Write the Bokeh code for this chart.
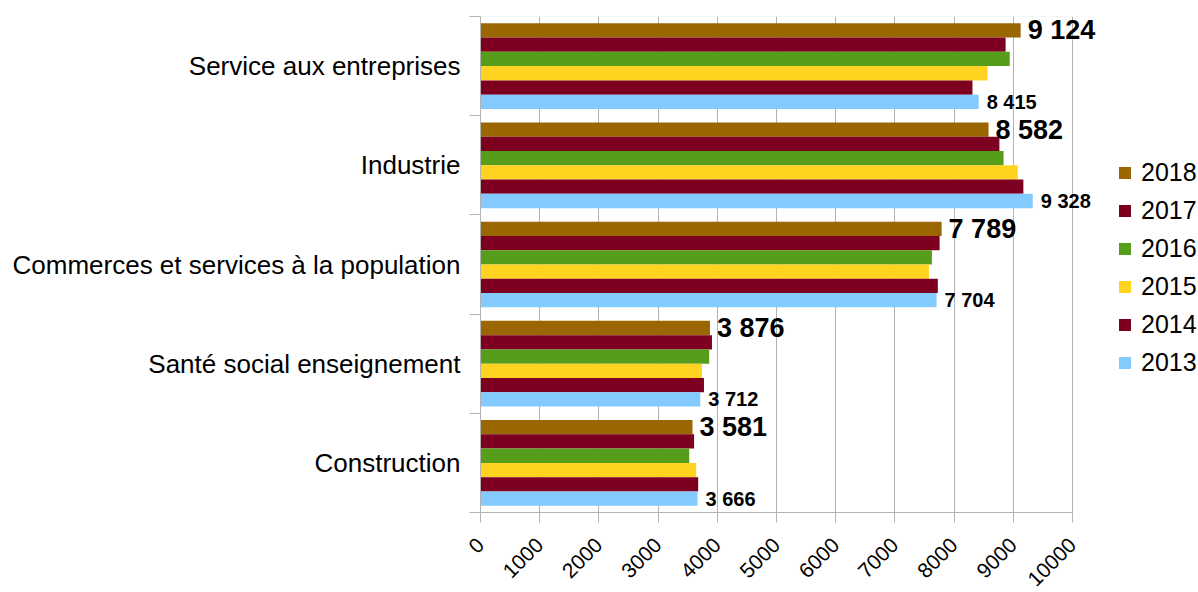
import math
from bokeh.plotting import figure
from bokeh.models import (ColumnDataSource, Range1d, FixedTicker, BoxAnnotation,
                          CustomJSTickFormatter, Legend, LegendItem, LabelSet)
from bokeh.transform import dodge
from bokeh.core.properties import value
from bokeh.embed import file_html
from bokeh.resources import INLINE

# ---- data ----
categories = ["Service aux entreprises", "Industrie",
              "Commerces et services à la population",
              "Santé social enseignement", "Construction"]
years = ["2018", "2017", "2016", "2015", "2014", "2013"]
v2018 = [9124, 8582, 7789, 3876, 3581]
v2017 = [8870, 8765, 7755, 3910, 3608]
v2016 = [8940, 8835, 7625, 3863, 3526]
v2015 = [8565, 9075, 7575, 3740, 3643]
v2014 = [8310, 9170, 7725, 3775, 3677]
v2013 = [8415, 9328, 7704, 3712, 3666]
x_ticks = [0, 1000, 2000, 3000, 4000, 5000, 6000, 7000, 8000, 9000, 10000]

colors = {"2018": "#996600", "2017": "#7E0021", "2016": "#579D1C",
          "2015": "#FFD320", "2014": "#7E0021", "2013": "#83CAFF"}
series = {"2018": v2018, "2017": v2017, "2016": v2016,
          "2015": v2015, "2014": v2014, "2013": v2013}

FONT = "Liberation Sans"
GRID = "#b3b3b3"
n = len(categories)
pos = [n - 0.5 - i for i in range(n)]

def fmt(v):
    return "{:,}".format(v).replace(",", " ")

data = dict(pos=pos)
for y in years:
    data["v" + y] = series[y]
data["l2018"] = [fmt(v) for v in v2018]
data["l2013"] = [fmt(v) for v in v2013]
src = ColumnDataSource(data)

# axis spans 592 px; the frame is widened so value labels past 10000 are not clipped
axis_px = 592
frame_w = 632
x_end = x_ticks[-1] * frame_w / axis_px

p = figure(frame_width=frame_w, frame_height=496, output_backend="svg",
           toolbar_location=None,
           x_range=Range1d(0, x_end), y_range=Range1d(0, n),
           min_border_left=480, min_border_right=86, min_border_top=16,
           min_border_bottom=80)
p.outline_line_color = None
p.background_fill_color = "white"
p.border_fill_color = "white"

# plot-area border (0..10000 x all categories)
p.add_layout(BoxAnnotation(left=x_ticks[0], right=x_ticks[-1], bottom=0, top=n,
                           fill_alpha=0, line_color=GRID, line_width=1,
                           level="underlay"))

bar_h = 0.144
offsets = {"2018": 0.36, "2017": 0.216, "2016": 0.072,
           "2015": -0.072, "2014": -0.216, "2013": -0.36}

renderers = {}
for y in years:
    r = p.hbar(y=dodge("pos", offsets[y], range=p.y_range), left=0, right="v" + y,
               height=bar_h, source=src, fill_color=colors[y], line_color=None)
    renderers[y] = r

p.add_layout(LabelSet(x="v2018", y=dodge("pos", offsets["2018"], range=p.y_range),
                      text="l2018", source=src, x_offset=7, text_baseline="middle",
                      text_align="left", text_font=value(FONT), text_font_style="bold",
                      text_font_size="27px", text_color="black"))
p.add_layout(LabelSet(x="v2013", y=dodge("pos", offsets["2013"], range=p.y_range),
                      text="l2013", source=src, x_offset=8, text_baseline="middle",
                      text_align="left", text_font=value(FONT), text_font_style="bold",
                      text_font_size="20px", text_color="black"))

# axes
xa = p.xaxis[0]
xa.ticker = FixedTicker(ticks=x_ticks)
xa.bounds = (x_ticks[0], x_ticks[-1])
xa.axis_line_color = GRID
xa.major_tick_line_color = GRID
xa.major_tick_out = 10
xa.major_tick_in = 0
xa.minor_tick_line_color = None
xa.major_label_orientation = math.pi / 4
xa.major_label_text_font = FONT
xa.major_label_text_font_size = "21px"
xa.major_label_text_color = "black"
xa.major_label_standoff = 19

ya = p.yaxis[0]
cats_bottom_up = list(reversed(categories))
ya.ticker = FixedTicker(ticks=pos, minor_ticks=list(range(n + 1)))
ya.formatter = CustomJSTickFormatter(args=dict(labels=cats_bottom_up),
                                     code="return labels[Math.floor(tick)];")
ya.axis_line_color = GRID
ya.major_tick_line_color = None
ya.major_tick_out = 0
ya.major_tick_in = 0
ya.minor_tick_line_color = GRID
ya.minor_tick_out = 11
ya.minor_tick_in = 0
ya.major_label_text_font = FONT
ya.major_label_text_font_size = "26px"
ya.major_label_text_color = "black"
ya.major_label_standoff = 9

p.xgrid.grid_line_color = GRID
p.xgrid.ticker = FixedTicker(ticks=x_ticks)
p.ygrid.grid_line_color = None

legend = Legend(items=[LegendItem(label=y, renderers=[renderers[y]]) for y in years],
                location=(5, 135), orientation="vertical",
                glyph_width=15, glyph_height=15, label_standoff=9, label_height=24,
                label_text_font=FONT, label_text_font_size="25px",
                label_text_color="black", spacing=9, padding=0, margin=0,
                border_line_color=None, background_fill_alpha=0)
p.add_layout(legend, "right")

open("out.html", "w").write(file_html(p, INLINE))
